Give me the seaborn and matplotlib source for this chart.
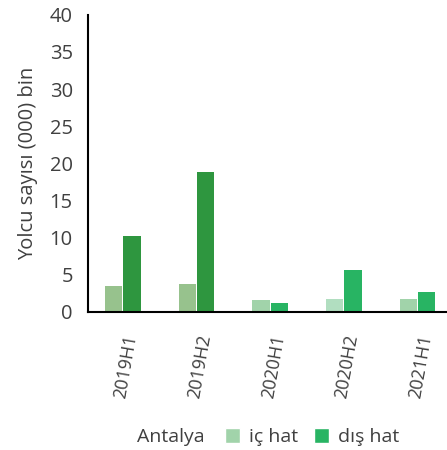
import pandas as pd
import seaborn as sns
import matplotlib
matplotlib.use("Agg")
import matplotlib.pyplot as plt
from matplotlib.patches import Patch

# data
periods = ["2019H1", "2019H2", "2020H1", "2020H2", "2021H1"]
ic_hat = [3.5, 3.7, 1.6, 1.7, 1.7]
dis_hat = [10.2, 18.8, 1.2, 5.6, 2.65]
series_names = ["iç hat", "dış hat"]
yticks = [0, 5, 10, 15, 20, 25, 30, 35, 40]

# per-bar colours (2019 shades differ)
ic_colors = ["#97c28d", "#97c28d", "#a1d3aa", "#b1dec0", "#a1d3aa"]
dis_colors = ["#2e963f", "#2e963f", "#28b463", "#28b463", "#28b463"]

df = pd.DataFrame({
    "period": periods * 2,
    "value": ic_hat + dis_hat,
    "type": [series_names[0]] * len(periods) + [series_names[1]] * len(periods),
})

sns.set_style("white")
plt.rcParams["font.family"] = ["Open Sans", "DejaVu Sans"]
txt = "#404040"
fs = 14.5

fig = plt.figure(figsize=(4.47, 4.5), dpi=100)
ax = fig.add_axes([0.197, 0.307, 0.803, 0.660])

sns.barplot(data=df, x="period", y="value", hue="type", order=periods,
            hue_order=series_names, width=0.5, gap=0.06, ax=ax,
            legend=False, saturation=1)

for cont, cols in zip(ax.containers, [ic_colors, dis_colors]):
    for bar, c in zip(cont, cols):
        bar.set_facecolor(c)
        bar.set_edgecolor("none")

ax.set_ylim(0, 40)
ax.set_xlim(-0.47, 4.4)
ax.set_yticks(yticks)
ax.set_yticklabels([str(t) for t in yticks], fontsize=fs, color=txt)
ax.set_xticks(range(len(periods)))
ax.set_xticklabels(periods, rotation=80, ha="right", rotation_mode="anchor",
                   fontsize=13, color=txt)
ax.tick_params(axis="x", length=0, pad=15)
# boundary ticks between categories
ax.set_xticks([i - 0.47 for i in range(len(periods))], minor=True)
ax.tick_params(axis="x", which="minor", length=7, width=1.5, color="black", direction="out")
ax.tick_params(axis="y", length=8, width=1.5, color="black", direction="out", pad=3)
ax.set_ylabel("Yolcu sayısı (000) bin", fontsize=fs, color=txt, labelpad=8)
ax.set_xlabel("")

for s in ["top", "right"]:
    ax.spines[s].set_visible(False)
for s in ["left", "bottom"]:
    ax.spines[s].set_color("black")
    ax.spines[s].set_linewidth(1.5)

fig.text(0.457, 0.029, "Antalya", ha="right", va="center", fontsize=14, color=txt)
handles = [Patch(facecolor="#a1d3aa"), Patch(facecolor="#28b463")]
fig.legend(handles, series_names, loc="center left",
           bbox_to_anchor=(0.503, 0.029), ncol=2, frameon=False, fontsize=14,
           handlelength=0.8, handleheight=0.8, borderpad=0, borderaxespad=0,
           handletextpad=0.45, columnspacing=0.8, labelcolor=txt)

fig.savefig("out.png", dpi=100)
